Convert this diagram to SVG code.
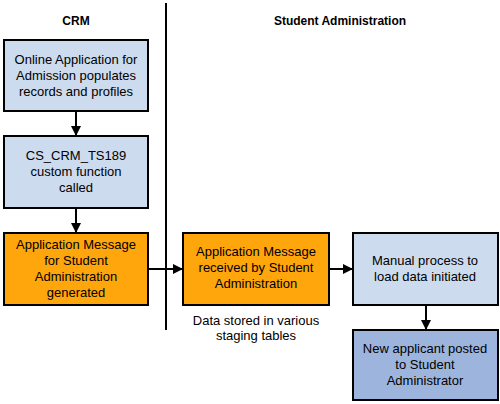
<svg xmlns="http://www.w3.org/2000/svg" width="500" height="404" viewBox="0 0 500 404">
<defs>
<style>
.box{stroke:#000;stroke-width:2}
.lb{fill:#cddbee}
.or{fill:#fea60c}
.db{fill:#9db5dd}
text{font-family:"Liberation Sans",Arial,sans-serif;font-size:13px;fill:#000;text-anchor:middle}
.h{font-weight:bold;font-size:12px}
.conn{stroke:#000;stroke-width:2;fill:none}
</style>
<marker id="ah" markerWidth="10" markerHeight="10" refX="9" refY="5" orient="auto" markerUnits="userSpaceOnUse">
<path d="M0,0 L10,5 L0,10 Z" fill="#000"/>
</marker>
</defs>
<rect width="500" height="404" fill="#fff"/>
<text class="h" x="76" y="25">CRM</text>
<text class="h" x="340" y="25">Student Administration</text>
<line x1="166" y1="3" x2="166" y2="330" stroke="#000" stroke-width="2"/>
<g id="connectors">
<line class="conn" x1="76" y1="112" x2="76" y2="135" marker-end="url(#ah)"/>
<line class="conn" x1="76" y1="209" x2="76" y2="232" marker-end="url(#ah)"/>
<line class="conn" x1="149" y1="269" x2="182" y2="269" marker-end="url(#ah)"/>
<line class="conn" x1="330" y1="269" x2="352" y2="269" marker-end="url(#ah)"/>
<line class="conn" x1="426" y1="306" x2="426" y2="329" marker-end="url(#ah)"/>
</g>
<g id="n1">
<rect class="box lb" x="4" y="40" width="144" height="71"/>
<text x="76" y="64">Online Application for</text>
<text x="76" y="80">Admission populates</text>
<text x="76" y="96">records and profiles</text>
</g>
<g id="n2">
<rect class="box lb" x="4" y="136" width="144" height="72"/>
<text x="76" y="160">CS_CRM_TS189</text>
<text x="76" y="176">custom function</text>
<text x="76" y="192">called</text>
</g>
<g id="n3">
<rect class="box or" x="4" y="233" width="144" height="72"/>
<text x="76" y="249">Application Message</text>
<text x="76" y="265">for Student</text>
<text x="76" y="281">Administration</text>
<text x="76" y="297">generated</text>
</g>
<g id="n4">
<rect class="box or" x="183" y="233" width="146" height="72"/>
<text x="256" y="256">Application Message</text>
<text x="256" y="272">received by Student</text>
<text x="256" y="288">Administration</text>
</g>
<text x="256" y="325" font-size="12">Data stored in various</text>
<text x="256" y="340" font-size="12">staging tables</text>
<g id="n5">
<rect class="box lb" x="353" y="233" width="145" height="72"/>
<text x="425" y="265">Manual process to</text>
<text x="425" y="281">load data initiated</text>
</g>
<g id="n6">
<rect class="box db" x="353" y="330" width="145" height="70"/>
<text x="425" y="353">New applicant posted</text>
<text x="425" y="369">to Student</text>
<text x="425" y="385">Administrator</text>
</g>
</svg>
